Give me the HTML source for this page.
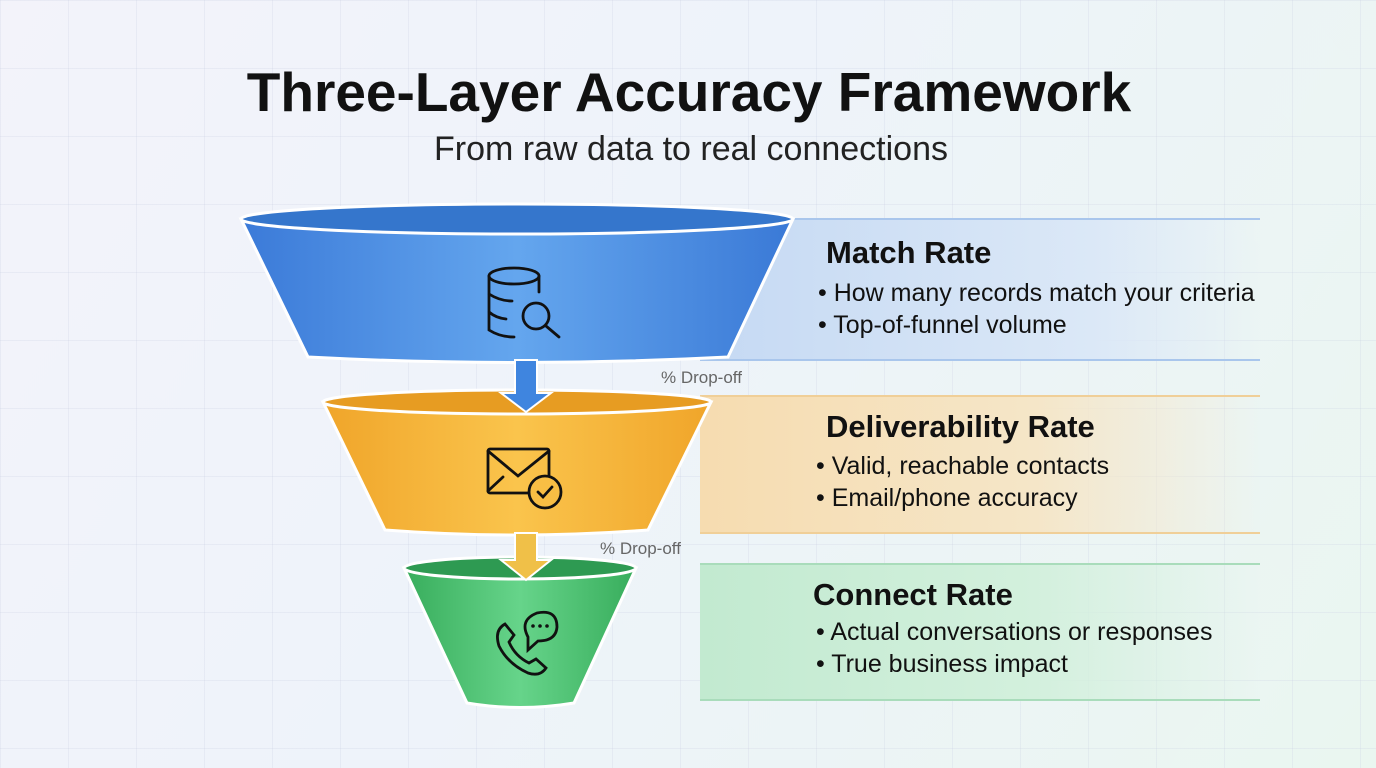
<!DOCTYPE html>
<html><head><meta charset="utf-8"><style>
html,body{margin:0;padding:0}
body{width:1376px;height:768px;overflow:hidden;font-family:"Liberation Sans",sans-serif;
background:linear-gradient(120deg,#f3f3fa 0%,#eef3fa 45%,#eaf6f0 100%);position:relative}
.grid{position:absolute;inset:0;background-image:linear-gradient(rgba(200,205,225,.25) 1px,transparent 1px),linear-gradient(90deg,rgba(200,205,225,.25) 1px,transparent 1px);background-size:68px 68px}
h1{position:absolute;top:60px;left:0;width:1378px;text-align:center;margin:0;font-size:55px;font-weight:bold;color:#111;letter-spacing:0}
.sub{position:absolute;top:130px;left:0;width:1382px;text-align:center;font-size:34px;color:#222}
.band{position:absolute;left:700px;width:560px}
.t{position:absolute;font-weight:bold;font-size:31px;color:#111}
.b{position:absolute;font-size:25px;color:#111}
.d{position:absolute;font-size:17px;color:#666}
</style></head><body>
<div class="grid"></div>
<h1>Three-Layer Accuracy Framework</h1>
<div class="sub">From raw data to real connections</div>
<div class="band" style="top:218px;height:139px;background:linear-gradient(90deg,#c5d9f3,#dbe8f7 70%,rgba(230,240,250,0));border-top:2px solid #a9c6ec;border-bottom:2px solid #a9c6ec"></div>
<div class="band" style="top:395px;height:135px;background:linear-gradient(90deg,#f6dcb0,#f5e6c8 60%,rgba(240,244,235,0));border-top:2px solid #f0cf98;border-bottom:2px solid #f0cf98"></div>
<div class="band" style="top:563px;height:134px;background:linear-gradient(90deg,#c2ead0,#d3f0dd 60%,rgba(230,246,236,0));border-top:2px solid #a9dcbb;border-bottom:2px solid #a9dcbb"></div>
<svg width="1376" height="768" style="position:absolute;left:0;top:0">
<defs>
<linearGradient id="gb" x1="0" x2="1"><stop offset="0" stop-color="#3b7ad8"/><stop offset=".5" stop-color="#64a6ee"/><stop offset="1" stop-color="#3a79d6"/></linearGradient>
<linearGradient id="gy2" x1="0" x2="1"><stop offset="0" stop-color="#f0a52a"/><stop offset=".5" stop-color="#fac44c"/><stop offset="1" stop-color="#f0a52a"/></linearGradient>
<linearGradient id="gg" x1="0" x2="1"><stop offset="0" stop-color="#38ad5c"/><stop offset=".5" stop-color="#66d48a"/><stop offset="1" stop-color="#38ad5c"/></linearGradient>
</defs>
<!-- blue -->
<path d="M241 219 L308 357 Q518 368 728 357 L793 219 Z" fill="url(#gb)" stroke="#fff" stroke-width="3"/>
<ellipse cx="517" cy="219" rx="276" ry="15" fill="#3576cc" stroke="#fff" stroke-width="3"/>
<!-- yellow -->
<path d="M323 402 L385 530 Q516 540 648 530 L711 402 Z" fill="url(#gy2)" stroke="#fff" stroke-width="3"/>
<ellipse cx="517" cy="402" rx="194" ry="12" fill="#e79c22" stroke="#fff" stroke-width="3"/>
<path d="M515 360 L537 360 L537 393 L551 393 L526 412 L501 393 L515 393Z" fill="#3f85df" stroke="#fff" stroke-width="2"/>
<!-- green -->
<path d="M404 568 L467 703 Q520 712 574 703 L636 568 Z" fill="url(#gg)" stroke="#fff" stroke-width="3"/>
<ellipse cx="520" cy="568" rx="116" ry="11" fill="#2e9a52" stroke="#fff" stroke-width="3"/>
<path d="M515 533 L537 533 L537 560 L551 560 L526 580 L501 560 L515 560Z" fill="#f0c048" stroke="#fff" stroke-width="2"/>
<!-- icons -->
<g fill="none" stroke="#111" stroke-width="2.8" stroke-linecap="round">
<ellipse cx="514" cy="276" rx="25" ry="8"/>
<path d="M489 276 V330 Q500 337 514 337 M539 276 V292 M489 294 Q500 301 512 301 M489 312 Q496 318 506 319"/>
<circle cx="536" cy="316" r="13"/><path d="M546 326 L559 337"/>
<rect x="488" y="449" width="61" height="44" rx="2"/>
<path d="M488 451 L518 476 L549 451 M488 491 L503 477"/>
<circle cx="545" cy="492" r="16" fill="#f8be44"/><path d="M538 492 L543 497 L552 487"/>
<path d="M505 624 Q494 630 499 646 Q508 664 528 673 Q540 677 546 668 L536 659 L529 663 Q515 656 509 642 L514 635 Z"/>
<path d="M528 637 Q519 620 537 613 Q557 609 557 627 Q556 641 538 641 L528 650 Z"/>
</g>
<g fill="#111"><circle cx="533" cy="626" r="1.8"/><circle cx="540" cy="626" r="1.8"/><circle cx="547" cy="626" r="1.8"/></g>
</svg>
<div class="d" style="left:661px;top:368px">% Drop-off</div>
<div class="d" style="left:600px;top:539px">% Drop-off</div>
<div class="t" style="left:826px;top:235px">Match Rate</div>
<div class="b" style="left:818px;top:279px">• How many records match your criteria</div>
<div class="b" style="left:818px;top:311px">• Top-of-funnel volume</div>
<div class="t" style="left:826px;top:409px">Deliverability Rate</div>
<div class="b" style="left:816px;top:452px">• Valid, reachable contacts</div>
<div class="b" style="left:816px;top:484px">• Email/phone accuracy</div>
<div class="t" style="left:813px;top:577px">Connect Rate</div>
<div class="b" style="left:816px;top:618px">• Actual conversations or responses</div>
<div class="b" style="left:816px;top:650px">• True business impact</div>
</body></html>
